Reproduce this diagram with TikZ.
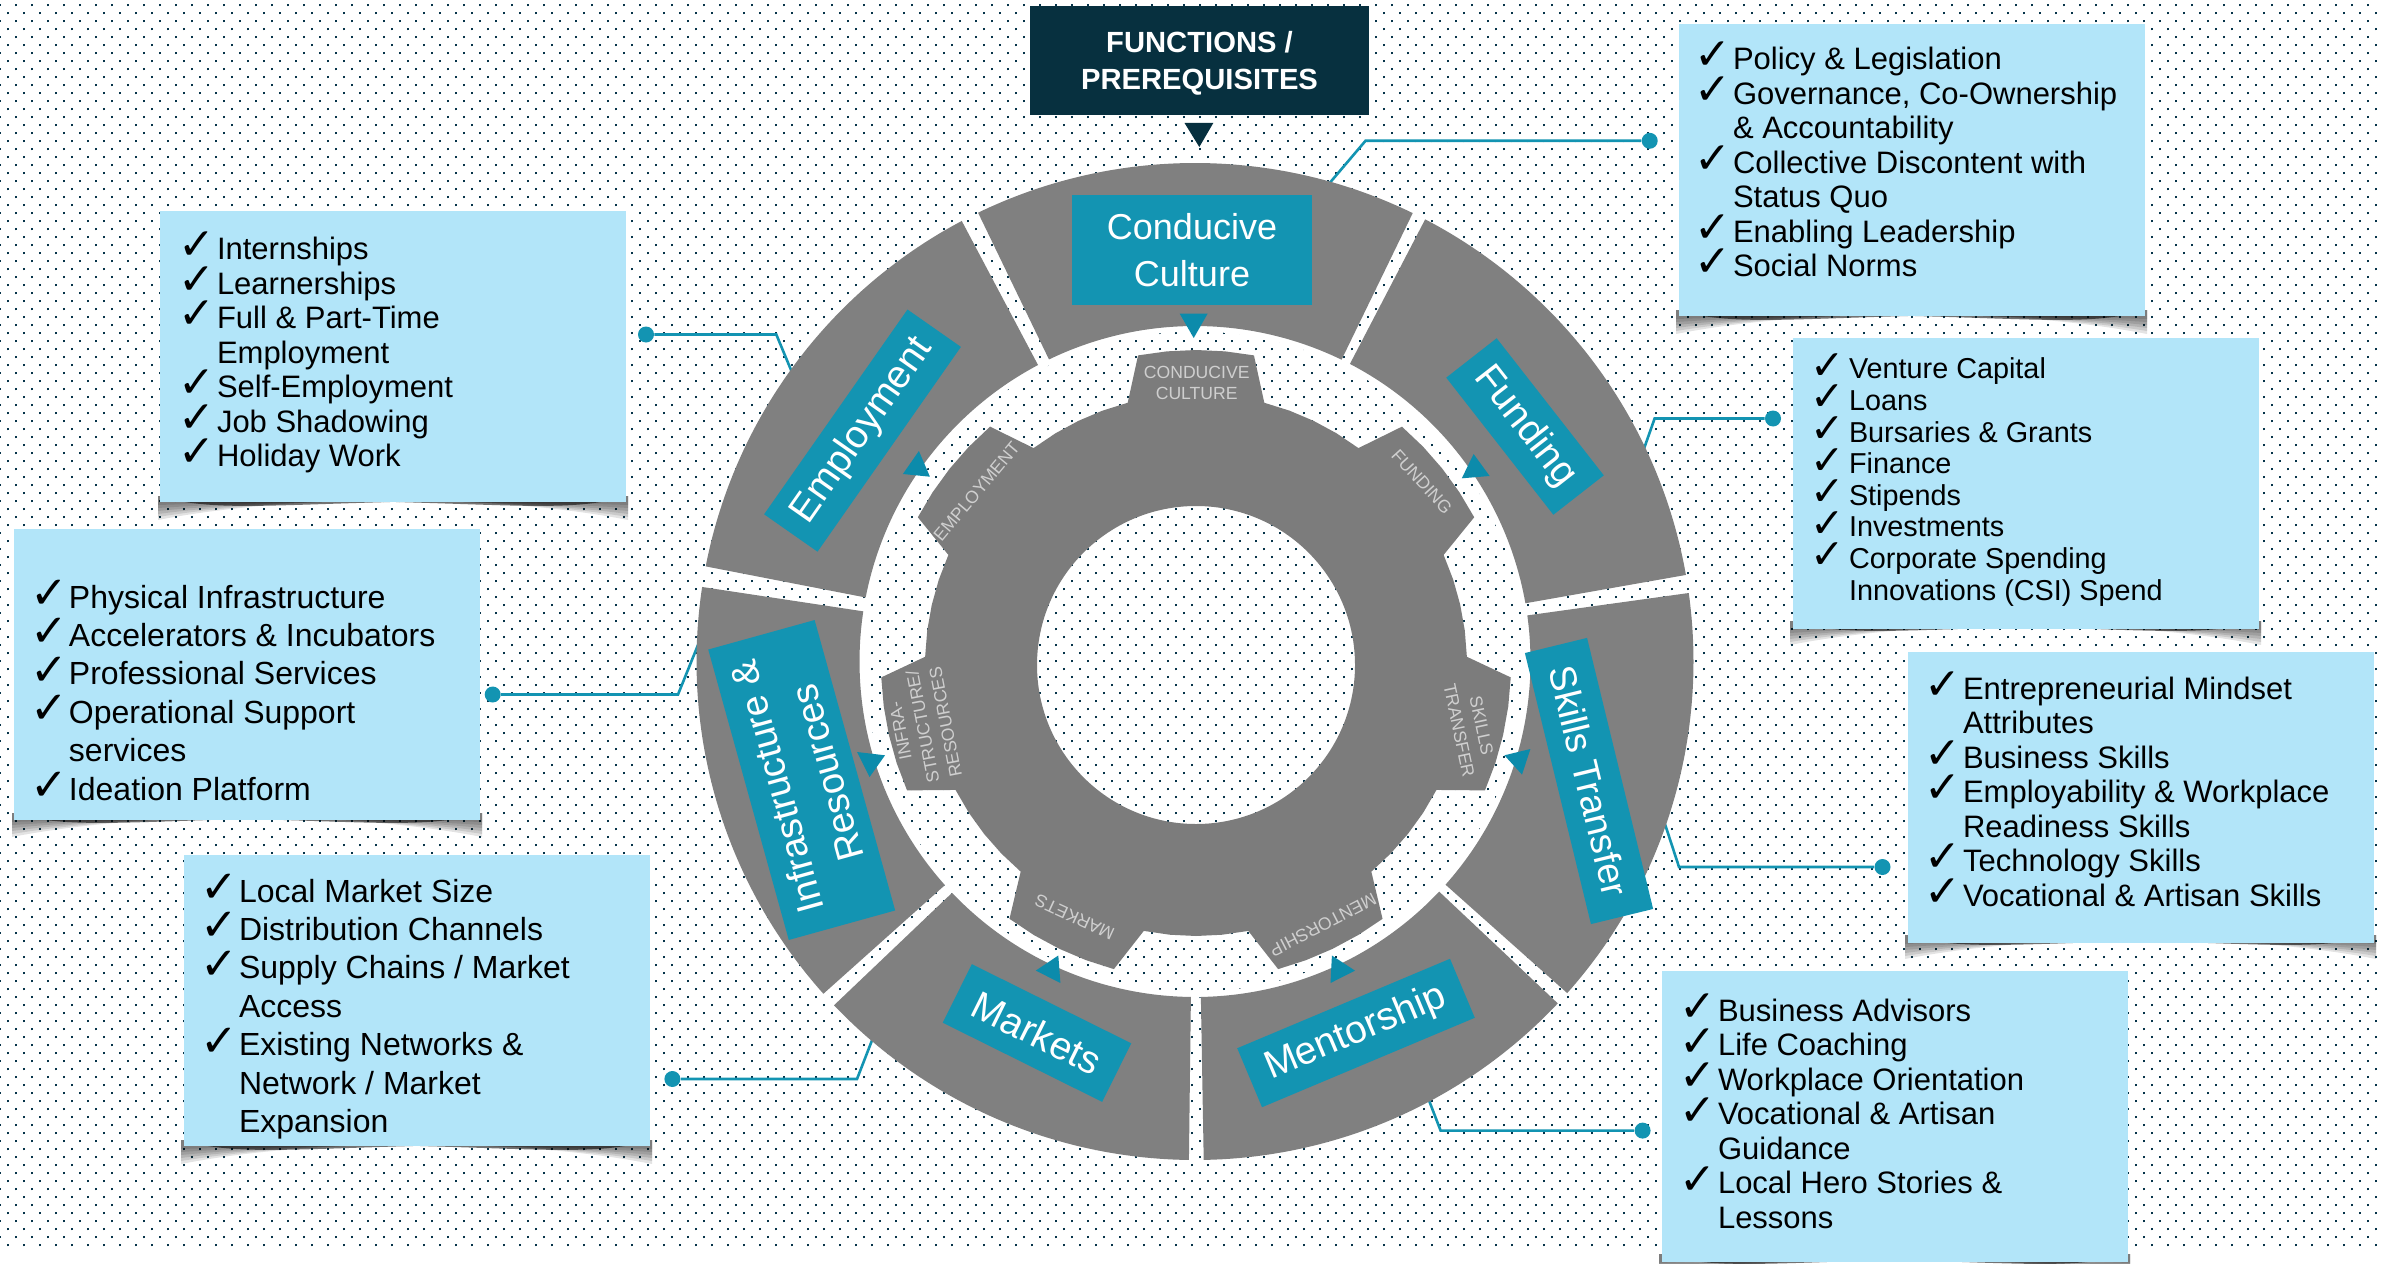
\documentclass[tikz,border=0pt]{standalone}
\usepackage{fontspec}
\setmainfont{Liberation Sans}
\newfontfamily\ckfont{DejaVu Sans}
\definecolor{ringgray}{HTML}{808080}
\definecolor{geargray}{HTML}{7C7C7C}
\definecolor{gtext}{HTML}{CFCFCF}
\definecolor{tealbox}{HTML}{1394B2}
\definecolor{tealtip}{HTML}{0C8BAB}
\definecolor{listblue}{HTML}{B2E5F9}
\definecolor{navy}{HTML}{07303F}
\definecolor{dotc}{HTML}{06344A}
\newcommand\cksize{22}
\newcommand\ckl[1]{\makebox[17.3pt][l]{\kern-1.8pt\smash{\raisebox{-0.2pt}{\ckfont\fontsize{\cksize}{\cksize}\selectfont\char"2713}}}#1}
\newcommand\ctl[1]{\hspace*{17.3pt}#1}
\newcommand\dotrowline[1]{\hbox to 1196pt{\kern#1\hbox to 1196pt{\leaders\hbox to 8pt{\vrule width 1pt height 1pt depth 0pt\hfil}\hfil}\hss}}
\newcommand\dotfield{\vbox to 631.5pt{\leaders\vbox to 8pt{\offinterlineskip\kern2pt\dotrowline{-.5pt}\kern3pt\dotrowline{3.5pt}\vfil}\vfil}}
\newcommand\ringseg[2]{\fill[ringgray] plot[domain=#1:#2,samples=70] ({1195+498.5*cos(\x)},{661.5-498.5*sin(\x)}) -- plot[domain=#2:#1,samples=50] ({1195+335.5*cos(\x)},{661.5-335.5*sin(\x)}) -- cycle;}
\newcommand\boxshadow[3]{%
  \foreach \d in {18,15,12,9,6,3}{
    \fill[black,opacity=.11] (#1-2,#3-6) -- (#2+2,#3-6) -- (#2+2,#3+\d)
      .. controls (#2-130,{#3-0.45*\d}) and (#1+130,{#3-0.45*\d}) .. (#1-2,#3+\d) -- cycle;}
  \fill[black,opacity=.55] (#1+25,#3) .. controls (#1+70,#3+7) and (#1+120,#3+3) .. (#1+230,#3) -- cycle;
  \fill[black,opacity=.55] (#2-25,#3) .. controls (#2-70,#3+7) and (#2-120,#3+3) .. (#2-230,#3) -- cycle;}
\tikzset{
  teallabel/.style={fill=tealbox,text=white,inner sep=0pt,align=center,font=\fontsize{19.5}{23.5}\selectfont},
  listbox/.style={fill=listblue,inner sep=0pt,minimum width=233pt,minimum height=145.5pt},
  listA/.style={anchor=west,inner sep=0pt,align=left,text=black,font=\fontsize{15.5}{17.25}\selectfont},
  listB/.style={anchor=west,inner sep=0pt,align=left,text=black,font=\renewcommand\cksize{20.5}\fontsize{14.4}{15.8}\selectfont},
  listC/.style={anchor=west,inner sep=0pt,align=left,text=black,font=\renewcommand\cksize{22.5}\fontsize{16}{19.2}\selectfont},
  conn/.style={draw=tealbox,line width=1.3pt},
  enddot/.style={circle,fill=tealbox,inner sep=0pt,minimum size=8pt},
  geartext/.style={text=gtext,inner sep=0pt,align=center,font=\fontsize{8.8}{11.5}\selectfont},
  tip/.style={fill=tealtip}
}
\begin{document}
\begin{tikzpicture}[x=0.5pt,y=-0.5pt]
\useasboundingbox (0,0) rectangle (2392,1263);
\fill[white] (0,0) rectangle (2392,1263);
% dotted background
\node[anchor=north west,inner sep=0pt,text=dotc] (field) at (0,0) {\dotfield};
% white band along the inner edge of the ring
\fill[white,even odd rule] (1195,661.5) circle [radius=336] (1195,661.5) circle [radius=330];
% connectors
\node[enddot] (dA) at (1649.7,140.8) {};
\node[enddot] (dB) at (1773,418.5) {};
\node[enddot] (dC) at (1882.5,867) {};
\node[enddot] (dD) at (1642.6,1130.6) {};
\node[enddot] (dE) at (672.4,1079) {};
\node[enddot] (dF) at (492.7,694.5) {};
\node[enddot] (dG) at (646,334.5) {};
\coordinate (rA) at (1322,192); \coordinate (kA) at (1365.5,140.8);
\coordinate (rB) at (1640,460); \coordinate (kB) at (1654.6,418.5);
\coordinate (rC) at (1662,815); \coordinate (kC) at (1679,867);
\coordinate (rD) at (1425,1090); \coordinate (kD) at (1440.6,1130.6);
\coordinate (rE) at (876,1030); \coordinate (kE) at (857,1079);
\coordinate (rF) at (700,640); \coordinate (kF) at (678,694.5);
\coordinate (rG) at (796,382); \coordinate (kG) at (776.3,334.5);
\draw[conn] (rA) -- (kA) -- (dA);
\draw[conn] (rB) -- (kB) -- (dB);
\draw[conn] (rC) -- (kC) -- (dC);
\draw[conn] (rD) -- (kD) -- (dD);
\draw[conn] (rE) -- (kE) -- (dE);
\draw[conn] (rF) -- (kF) -- (dF);
\draw[conn] (rG) -- (kG) -- (dG);
% ring
\ringseg{64.1}{115.8}
\ringseg{117.9}{169}
\ringseg{171.4}{221.8}
\ringseg{223.6}{269.3}
\ringseg{271}{316.7}
\ringseg{318.3}{367.9}
\ringseg{10}{62.5}
% gear
\fill[geargray,even odd rule]
  ({1196+271*cos(104.6)},{665-271*sin(104.6)})
  \foreach \k [evaluate=\k as \a using 90-\k*51.42857] in {0,...,6}{
    -- ({1196+271*cos(\a+14.6)},{665-271*sin(\a+14.6)})
    -- ({1196+315*cos(\a+10.6)},{665-315*sin(\a+10.6)})
    -- ({1196+315*cos(\a+5.3)},{665-315*sin(\a+5.3)})
    -- ({1196+315*cos(\a)},{665-315*sin(\a)})
    -- ({1196+315*cos(\a-5.3)},{665-315*sin(\a-5.3)})
    -- ({1196+315*cos(\a-10.6)},{665-315*sin(\a-10.6)})
    -- ({1196+271*cos(\a-14.6)},{665-271*sin(\a-14.6)})
    -- ({1196+271*cos(\a-20.2)},{665-271*sin(\a-20.2)})
    -- ({1196+271*cos(\a-25.7)},{665-271*sin(\a-25.7)})
    -- ({1196+271*cos(\a-31.2)},{665-271*sin(\a-31.2)})
  } -- cycle
  (1196,665) circle [radius=159];
% gear labels
\node[geartext,font=\fontsize{8.8}{10.2}\selectfont] (g1) at (1196.7,383) {CONDUCIVE\\CULTURE};
\node[geartext,rotate=50] (g2) at (976.6,491.7) {EMPLOYMENT};
\node[geartext,rotate=-47.6] (g3) at (1421.9,481.7) {FUNDING};
\node[geartext,rotate=-78] (g4) at (1470.3,728) {SKILLS\\TRANSFER};
\node[geartext,rotate=-152.8] (g5) at (1323,925) {MENTORSHIP};
\node[geartext,rotate=155.2] (g6) at (1074.6,917.3) {MARKETS};
\node[geartext,rotate=101] (g7) at (923,726.7) {INFRA-\\STRUCTURE/\\RESOURCES};
% ring labels
\node[teallabel,minimum width=120pt,minimum height=55pt,font=\fontsize{18}{23.5}\selectfont] (t1) at (1192,250) {Conducive\\Culture};
\node[teallabel,rotate=55,minimum width=125pt,minimum height=32.6pt] (t2) at (862.5,430.6) {Employment};
\node[teallabel,rotate=-52,minimum width=87pt,minimum height=32pt] (t3) at (1525,426.5) {Funding};
\node[teallabel,rotate=-76.3,minimum width=139.5pt,minimum height=32pt,font=\fontsize{18.7}{23}\selectfont] (t4) at (1589,781) {Skills Transfer};
\node[teallabel,rotate=22.8,minimum width=115.4pt,minimum height=32pt] (t5) at (1356,1033) {Mentorship};
\node[teallabel,rotate=-26.4,minimum width=89pt,minimum height=32.7pt] (t6) at (1037,1033) {Markets};
\node[teallabel,rotate=105.5,minimum width=150.7pt,minimum height=55.2pt,font=\fontsize{19}{26}\selectfont] (t7) at (801.7,780) {Infrastructure \&\\Resources};
% small arrowheads
\fill[navy] (1184.5,123) -- (1213.3,123) -- (1199.3,147) -- cycle;
\fill[tip] (1179.6,313.5) -- (1207.7,313.5) -- (1193.7,338) -- cycle;
\fill[tip] (918.9,451) -- (902.9,474) -- (929.9,476.7) -- cycle;
\fill[tip] (1473.6,454) -- (1461.8,478.3) -- (1489.6,476) -- cycle;
\fill[tip] (1504.4,755.3) -- (1530.4,749) -- (1522,774.6) -- cycle;
\fill[tip] (1331.9,955.5) -- (1355,970.6) -- (1330.5,983) -- cycle;
\fill[tip] (1058.3,955.5) -- (1035.8,970.6) -- (1060.4,983) -- cycle;
\fill[tip] (857,752) -- (885,755.3) -- (869.6,777) -- cycle;
% title
\node[fill=navy,text=white,inner sep=0pt,minimum width=169.5pt,minimum height=54.5pt,align=center,font=\bfseries\fontsize{14.6}{18.8}\selectfont] (title) at (1199.5,60.5) {\rule{0pt}{13.5pt}FUNCTIONS /\\PREREQUISITES};
% list boxes
\boxshadow{1678}{2145}{316}
\boxshadow{1792}{2259}{627}
\boxshadow{1907}{2374}{941}
\boxshadow{1661}{2128}{1260}
\boxshadow{183}{650}{1146}
\boxshadow{14}{480}{819}
\boxshadow{160}{626}{502}
\node[listbox] (bA) at (1911.5,170) {};
\node[listbox] (bB) at (2025.5,483) {};
\node[listbox] (bC) at (2140.5,797) {};
\node[listbox] (bD) at (1894.5,1116) {};
\node[listbox] (bE) at (416.5,1000) {};
\node[listbox] (bF) at (247,674) {};
\node[listbox] (bG) at (393,356.5) {};
\node[listA] (lA) at (1698,162) {\ckl{Policy \& Legislation}\\\ckl{Governance, Co-Ownership}\\\ctl{\& Accountability}\\\ckl{Collective Discontent with}\\\ctl{Status Quo}\\\ckl{Enabling Leadership}\\\ckl{Social Norms}};
\node[listB] (lB) at (1814,482) {\ckl{Venture Capital}\\\ckl{Loans}\\\ckl{Bursaries \& Grants}\\\ckl{Finance}\\\ckl{Stipends}\\\ckl{Investments}\\\ckl{Corporate Spending}\\\ctl{Innovations (CSI) Spend}};
\node[listA] (lC) at (1928,791.5) {\ckl{Entrepreneurial Mindset}\\\ctl{Attributes}\\\ckl{Business Skills}\\\ckl{Employability \& Workplace}\\\ctl{Readiness Skills}\\\ckl{Technology Skills}\\\ckl{Vocational \& Artisan Skills}};
\node[listA] (lD) at (1683,1113.6) {\ckl{Business Advisors}\\\ckl{Life Coaching}\\\ckl{Workplace Orientation}\\\ckl{Vocational \& Artisan}\\\ctl{Guidance}\\\ckl{Local Hero Stories \&}\\\ctl{Lessons}};
\node[listC] (lE) at (204,1009) {\ckl{Local Market Size}\\\ckl{Distribution Channels}\\\ckl{Supply Chains / Market}\\\ctl{Access}\\\ckl{Existing Networks \&}\\\ctl{Network / Market}\\\ctl{Expansion}};
\node[listC] (lF) at (34,692.6) {\ckl{Physical Infrastructure}\\\ckl{Accelerators \& Incubators}\\\ckl{Professional Services}\\\ckl{Operational Support}\\\ctl{services}\\\ckl{Ideation Platform}};
\node[listA] (lG) at (182,355) {\ckl{Internships}\\\ckl{Learnerships}\\\ckl{Full \& Part-Time}\\\ctl{Employment}\\\ckl{Self-Employment}\\\ckl{Job Shadowing}\\\ckl{Holiday Work}};
\end{tikzpicture}
\end{document}
